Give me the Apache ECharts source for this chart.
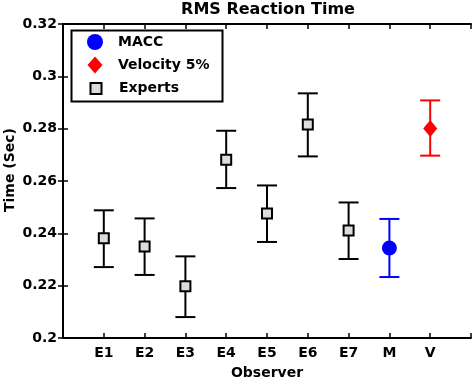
<!DOCTYPE html>
<html>
<head>
<meta charset="utf-8">
<script src="https://cdn.jsdelivr.net/npm/echarts@6/dist/echarts.min.js"></script>
<style>html,body{margin:0;padding:0;background:#fff}#c{width:473px;height:383px}</style>
</head>
<body>
<div id="c"></div>
<script>
var categories = ['E1','E2','E3','E4','E5','E6','E7','M','V'];
var expertMean = [0.2381, 0.2350, 0.2198, 0.2681, 0.2476, 0.2816, 0.2411];
var expertLow  = [0.2271, 0.2241, 0.2080, 0.2573, 0.2367, 0.2694, 0.2302];
var expertHigh = [0.2488, 0.2457, 0.2312, 0.2792, 0.2583, 0.2935, 0.2518];
var maccMean = [0.2344], maccLow = [0.2233], maccHigh = [0.2455];
var velMean = [0.2801], velLow = [0.2697], velHigh = [0.2908];
var yTicks = [0.2, 0.22, 0.24, 0.26, 0.28, 0.3, 0.32];

var FONT = '"DejaVu Sans", sans-serif';
var chart = echarts.init(document.getElementById('c'));

function pts(offset, mean) { return mean.map(function (v, i) { return [offset + i + 1, v]; }); }
function bars(offset, low, high) { return low.map(function (v, i) { return [offset + i + 1, v, high[i]]; }); }

function errSeries(data, color) {
  return {
    type: 'custom', silent: true, z: 2,
    data: data,
    encode: { x: 0, y: [1, 2] },
    renderItem: function (params, api) {
      var x = api.value(0);
      var lo = api.coord([x, api.value(1)]);
      var hi = api.coord([x, api.value(2)]);
      var hw = 10;
      var st = { stroke: color, lineWidth: 2 };
      return { type: 'group', children: [
        { type: 'line', shape: { x1: lo[0], y1: lo[1], x2: hi[0], y2: hi[1] }, style: st },
        { type: 'line', shape: { x1: lo[0] - hw, y1: lo[1], x2: lo[0] + hw, y2: lo[1] }, style: st },
        { type: 'line', shape: { x1: hi[0] - hw, y1: hi[1], x2: hi[0] + hw, y2: hi[1] }, style: st }
      ]};
    }
  };
}

var axisLine = { show: true, lineStyle: { color: '#000', width: 2 } };
var axisTick = { show: true, inside: true, length: 5, lineStyle: { color: '#000', width: 1.5 } };
var txt = { fontFamily: FONT, fontWeight: 'bold', fontSize: 14, color: '#000' };

chart.setOption({
  animation: false,
  backgroundColor: '#fff',
  title: {
    text: 'RMS Reaction Time', left: 268, top: 2, padding: 0, textAlign: 'center',
    textStyle: { fontFamily: FONT, fontWeight: 'bold', fontSize: 16, color: '#000' }
  },
  grid: { left: 63, right: 2, top: 24, bottom: 45, containLabel: false, outerBoundsMode: 'none' },
  legend: [{
    orient: 'vertical', left: 87, top: 34, padding: 0,
    itemWidth: 16, itemHeight: 16,
    data: ['MACC'],
    textStyle: Object.assign({ padding: [0, 0, 0, 10] }, txt)
  }, {
    orient: 'vertical', left: 87.5, top: 56.5, padding: 0,
    itemWidth: 15, itemHeight: 17, symbolKeepAspect: false,
    data: [{ name: 'Velocity 5%', icon: 'path://M7.5,0L15,8.5L7.5,17L0,8.5Z' }],
    textStyle: Object.assign({ padding: [0, 0, 0, 10.5] }, txt)
  }, {
    orient: 'vertical', left: 89.5, top: 81.5, padding: 0,
    itemWidth: 11, itemHeight: 11,
    data: ['Experts'],
    textStyle: Object.assign({ padding: [0, 0, 0, 12.5] }, txt)
  }],
  graphic: [{
    type: 'rect', left: 69, top: 28, z: 100,
    shape: { width: 151, height: 71 },
    style: { fill: 'none', stroke: '#000', lineWidth: 2 }
  }],
  xAxis: [{
    type: 'value', min: 0, max: 10, interval: 1,
    name: 'Observer', nameLocation: 'middle', nameGap: 28, nameMoveOverlap: false,
    nameTextStyle: txt,
    axisLine: axisLine, axisTick: axisTick, splitLine: { show: false },
    axisLabel: Object.assign({
      margin: 8,
      formatter: function (v) { var i = Math.round(v) - 1; return categories[i] || ''; }
    }, txt)
  }, {
    type: 'value', min: 0, max: 10, interval: 1, position: 'top',
    axisLine: axisLine, axisTick: axisTick, axisLabel: { show: false }, splitLine: { show: false }
  }],
  yAxis: [{
    type: 'value', min: yTicks[0], max: yTicks[yTicks.length - 1], interval: 0.02,
    name: 'Time (Sec)', nameLocation: 'middle', nameGap: 46, nameRotate: 90, nameMoveOverlap: false,
    nameTextStyle: Object.assign({ padding: [0, 0, 0, 22] }, txt),
    axisLine: axisLine, axisTick: axisTick, splitLine: { show: false },
    axisLabel: Object.assign({ margin: 6 }, txt)
  }, {
    type: 'value', min: yTicks[0], max: yTicks[yTicks.length - 1], interval: 0.02, position: 'right',
    axisLine: axisLine, axisTick: axisTick, axisLabel: { show: false }, splitLine: { show: false }
  }],
  series: [
    errSeries(bars(0, expertLow, expertHigh), '#000'),
    errSeries(bars(7, maccLow, maccHigh), '#0000ff'),
    errSeries(bars(8, velLow, velHigh), '#ff0000'),
    {
      name: 'MACC', type: 'scatter', z: 3, data: pts(7, maccMean),
      symbol: 'circle', symbolSize: 15, itemStyle: { color: '#0000ff', opacity: 1 }
    },
    {
      name: 'Velocity 5%', type: 'scatter', z: 3, data: pts(8, velMean),
      symbol: 'diamond', symbolSize: [14, 17], itemStyle: { color: '#ff0000', opacity: 1 }
    },
    {
      name: 'Experts', type: 'scatter', z: 3, data: pts(0, expertMean),
      symbol: 'rect', symbolSize: 10,
      itemStyle: { color: '#dcdcdc', borderColor: '#000', borderWidth: 2, opacity: 1 }
    }
  ]
});
</script>
</body>
</html>
